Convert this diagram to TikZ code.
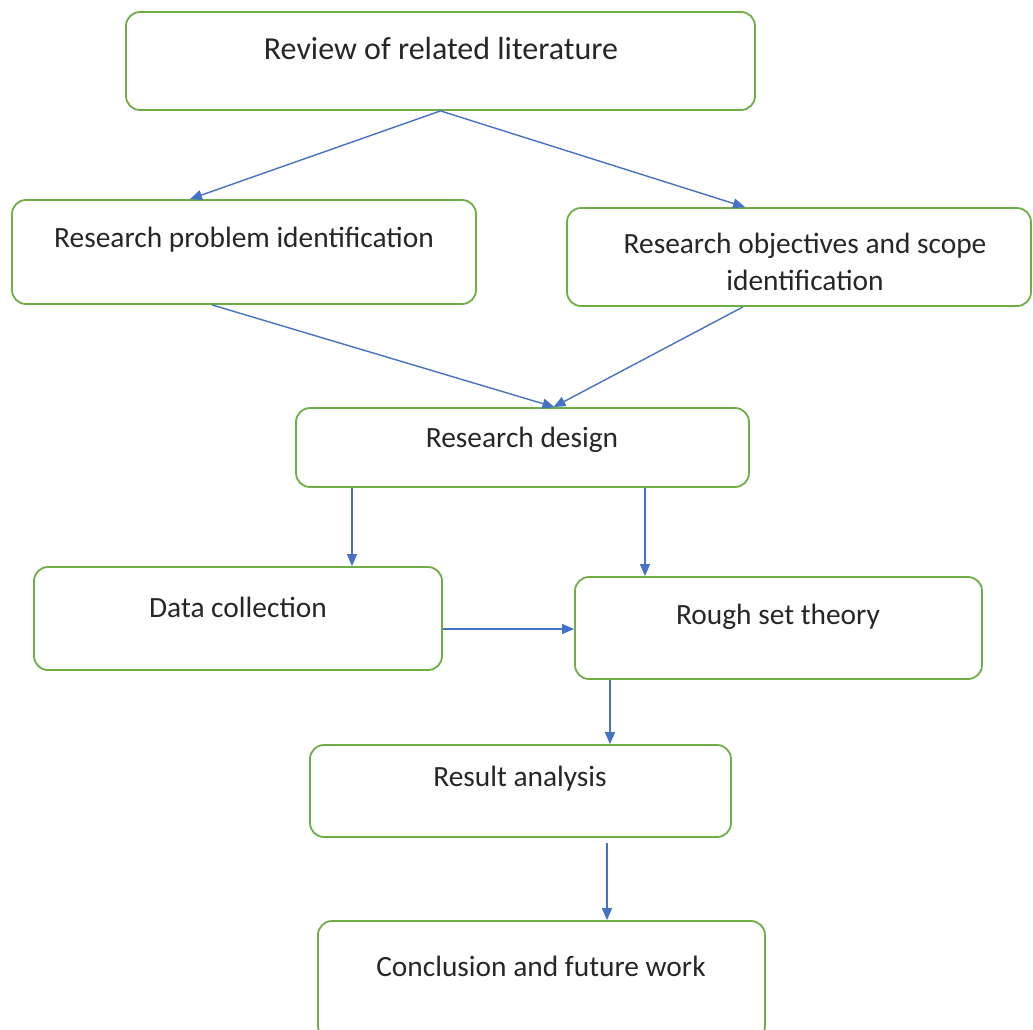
\documentclass[tikz,border=0pt]{standalone}
\usepackage{fontspec}
\setmainfont{Carlito}
\usetikzlibrary{arrows.meta}
\definecolor{boxgreen}{RGB}{112,173,71}
\definecolor{flowblue}{RGB}{68,114,196}

\begin{document}
\begin{tikzpicture}[x=0.5pt,y=-0.5pt,
    box/.style={draw=boxgreen,line width=0.9pt,rounded corners=7pt,inner sep=0pt},
    lbl/.style={font=\fontsize{14.7}{18.5}\selectfont,text=black!85,align=center},
    flow/.style={draw=flowblue,line width=0.7pt,-{Triangle[length=6pt,width=5pt]}}]
    \useasboundingbox (0,0) rectangle (1033,1029);
    \clip (0,0) rectangle (1033,1029);
    % Boxes
    \node[box,minimum width=314.5pt,minimum height=49pt] (rev) at (440.5,61) {};
    \node[box,minimum width=232pt,minimum height=52pt] (prob) at (244,252) {};
    \node[box,minimum width=232pt,minimum height=49pt] (obj) at (799,257) {};
    \node[box,minimum width=226.5pt,minimum height=39.5pt] (des) at (522.5,447.5) {};
    \node[box,minimum width=204pt,minimum height=51.5pt] (data) at (238,618.5) {};
    \node[box,minimum width=203.5pt,minimum height=51pt] (rough) at (778.5,628) {};
    \node[box,minimum width=210.5pt,minimum height=46pt] (res) at (520.5,791) {};
    \node[box,minimum width=223.5pt,minimum height=59.5pt] (conc) at (541.5,980.5) {};
    % Labels
    \node[lbl,font=\fontsize{16}{19}\selectfont] (revt) at (441,49) {Review of related literature};
    \node[lbl] (probt) at (244,240) {Research problem identification};
    \node[lbl] (objt) at (805,261.5) {Research objectives and scope\\identification};
    \node[lbl] (dest) at (522,440) {Research design};
    \node[lbl] (datat) at (238,607) {Data collection};
    \node[lbl] (rought) at (778,617) {Rough set theory};
    \node[lbl] (rest) at (520,779) {Result analysis};
    \node[lbl] (conct) at (541,966) {Conclusion and future work};
    % Arrows
    \draw[flow] (rev.south) -- ([xshift=-27pt]prob.north);
    \draw[flow] (rev.south) -- ([xshift=-27pt]obj.north);
    \draw[flow] ([xshift=-16pt]prob.south) -- ([xshift=16pt]des.north);
    \draw[flow] ([xshift=-28pt]obj.south) -- ([xshift=15.5pt]des.north);
    \draw[flow] ([xshift=-85.25pt]des.south) -- ([xshift=57pt]data.north);
    \draw[flow] ([xshift=61.25pt]des.south) -- ([xshift=-66.75pt]rough.north);
    \draw[flow] ([yshift=-5.25pt]data.east) -- ([yshift=-0.5pt]rough.west);
    \draw[flow] ([xshift=-84.25pt]rough.south) -- ([xshift=44.75pt]res.north);
    \draw[flow] ([xshift=43.25pt,yshift=-2.5pt]res.south) -- ([xshift=32.75pt]conc.north);
\end{tikzpicture}
\end{document}
